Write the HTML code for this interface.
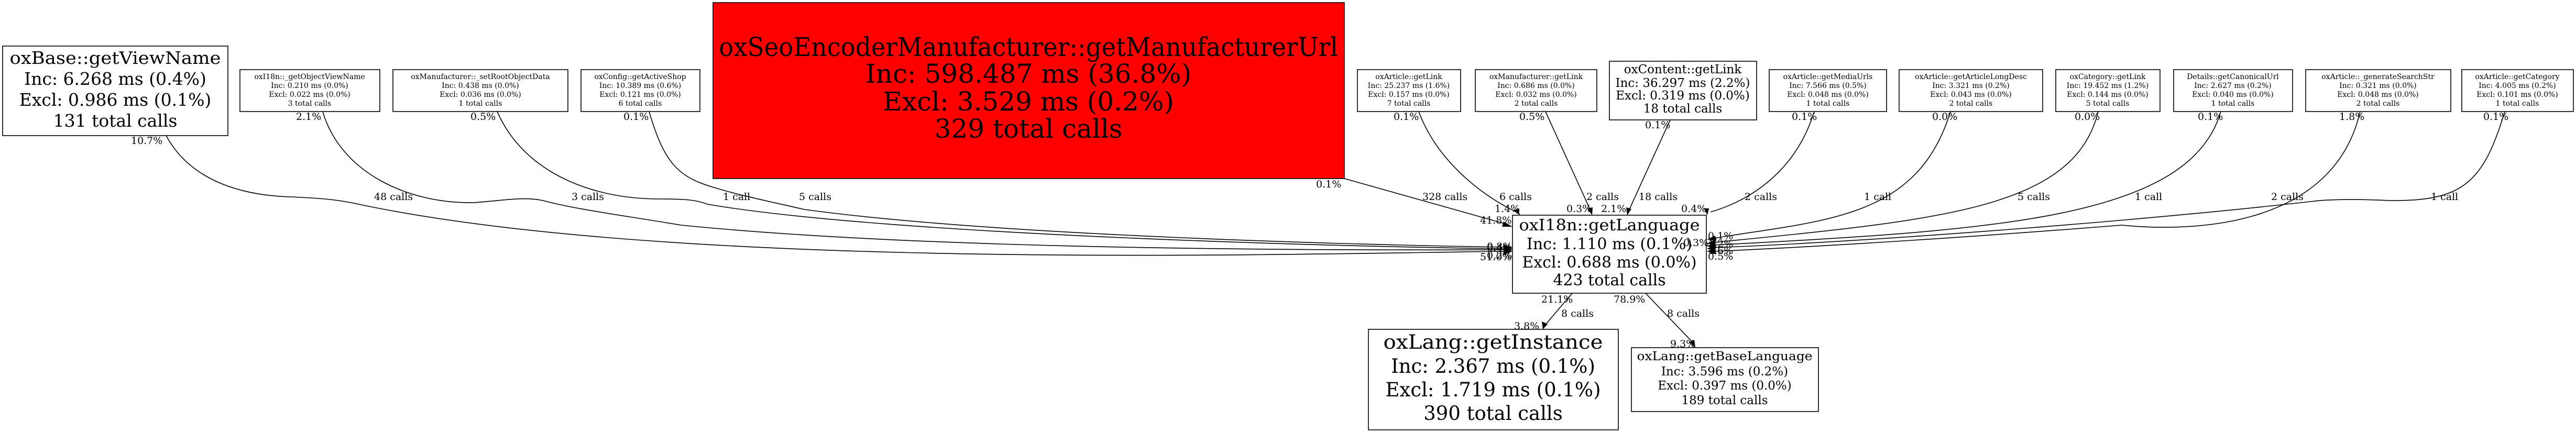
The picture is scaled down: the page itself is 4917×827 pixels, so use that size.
<!DOCTYPE html>
<html><head><meta charset="utf-8"><style>
html,body{margin:0;padding:0;background:#fff;width:4917px;height:827px;overflow:hidden}
svg{display:block}
text{font-family:"DejaVu Serif","Liberation Serif",serif;fill:#000}
.s{font-size:14px}
.l{font-size:19px}
</style></head><body>
<svg width="4917" height="827" viewBox="0 0 4917 827" xmlns="http://www.w3.org/2000/svg">
<g fill="none" stroke="#000" stroke-width="1.6">
<path d="M317,259 C350,320 420,372 555,376 C600,378 640,380 684,390 C1300,520 2500,484 2872,480"/>
<path d="M616,213 C650,330 780,390 906,387 C960,383 1000,375 1036,383 C1100,400 1180,410 1300,430 C1800,480 2600,478 2872,477"/>
<path d="M949,213 C1000,330 1130,380 1258,380 C1310,380 1330,382 1350,390 C1700,450 2600,472 2872,475"/>
<path d="M1239,213 C1270,320 1300,340 1369,360 C1420,375 1470,385 1535,400 C1900,450 2600,468 2872,472"/>
<path d="M2566,341 L2875,428"/>
<path d="M2708,213 C2740,300 2820,370 2895,405"/>
<path d="M2950,213 L3035,400"/>
<path d="M3188,229 L3110,400"/>
<path d="M3463,213 C3430,320 3350,380 3265,405"/>
<path d="M3723,213 C3660,420 3480,420 3272,455"/>
<path d="M4005,213 C3960,400 3700,420 3272,463"/>
<path d="M4239,213 C4180,420 3800,440 3272,468"/>
<path d="M4505,213 C4450,450 4150,440 4050,430 C3800,450 3500,470 3272,480"/>
<path d="M4781,213 C4740,350 4700,385 4560,383 C4500,380 4450,380 4410,385 C4100,420 3600,460 3272,473"/>
<path d="M3001,560 L2950,620"/>
<path d="M3141,560 L3232,655"/>
</g>
<g fill="#000">
<polygon points="2887,480 2870,473 2870,487"/>
<polygon points="2887,476 2870,470 2870,482"/>
<polygon points="2887,473 2870,467 2870,479"/>
<polygon points="2887,433 2870,423 2867,433"/>
<polygon points="2901,411 2888,402 2898,399"/>
<polygon points="3039,411 3030,398 3040,396"/>
<polygon points="3106,411 3104,396 3114,399"/>
<polygon points="3259,411 3262,398 3252,398"/>
<polygon points="3258,457 3274,450 3276,461"/>
<polygon points="3258,465 3274,458 3275,469"/>
<polygon points="3258,470 3274,463 3275,474"/>
<polygon points="3258,475 3274,469 3275,480"/>
<polygon points="3258,480 3274,474 3275,486"/>
<polygon points="2945,629 2943,614 2954,619"/>
<polygon points="3236,664 3224,654 3234,649"/>
</g>
<g fill="#fff" stroke="#000" stroke-width="1.6">
<rect x="5" y="88" width="430" height="171"/>
<rect x="458" y="133" width="267" height="80"/>
<rect x="750" y="133" width="334" height="80"/>
<rect x="1109" y="133" width="227" height="80"/>
<rect x="1361" y="5" width="1205" height="336" fill="#ff0000"/>
<rect x="2591" y="133" width="197" height="80"/>
<rect x="2816" y="133" width="232" height="80"/>
<rect x="3072" y="117" width="281" height="112"/>
<rect x="3377" y="133" width="224" height="80"/>
<rect x="3625" y="133" width="274" height="80"/>
<rect x="3924" y="133" width="199" height="80"/>
<rect x="4149" y="133" width="227" height="80"/>
<rect x="4401" y="133" width="277" height="80"/>
<rect x="4699" y="133" width="213" height="80"/>
<rect x="2887" y="411" width="370" height="149"/>
<rect x="2612" y="629" width="477" height="192"/>
<rect x="3114" y="664" width="357" height="122"/>
</g>
<g text-anchor="middle">
<g font-size="33"><text x="220" y="122" textLength="403" lengthAdjust="spacingAndGlyphs">oxBase::getViewName</text><text x="220" y="162">Inc: 6.268 ms (0.4%)</text><text x="220" y="202">Excl: 0.986 ms (0.1%)</text><text x="220" y="242">131 total calls</text></g>
<g class="s"><text x="591" y="151">oxI18n::_getObjectViewName</text><text x="591" y="168">Inc: 0.210 ms (0.0%)</text><text x="591" y="185">Excl: 0.022 ms (0.0%)</text><text x="591" y="202">3 total calls</text></g>
<g class="s"><text x="917" y="151">oxManufacturer::_setRootObjectData</text><text x="917" y="168">Inc: 0.438 ms (0.0%)</text><text x="917" y="185">Excl: 0.036 ms (0.0%)</text><text x="917" y="202">1 total calls</text></g>
<g class="s"><text x="1222" y="151">oxConfig::getActiveShop</text><text x="1222" y="168">Inc: 10.389 ms (0.6%)</text><text x="1222" y="185">Excl: 0.121 ms (0.0%)</text><text x="1222" y="202">6 total calls</text></g>
<g font-size="50"><text x="1963" y="107" textLength="1182" lengthAdjust="spacingAndGlyphs">oxSeoEncoderManufacturer::getManufacturerUrl</text><text x="1963" y="158">Inc: 598.487 ms (36.8%)</text><text x="1963" y="211">Excl: 3.529 ms (0.2%)</text><text x="1963" y="263">329 total calls</text></g>
<g class="s"><text x="2689" y="151">oxArticle::getLink</text><text x="2689" y="168">Inc: 25.237 ms (1.6%)</text><text x="2689" y="185">Excl: 0.157 ms (0.0%)</text><text x="2689" y="202">7 total calls</text></g>
<g class="s"><text x="2932" y="151">oxManufacturer::getLink</text><text x="2932" y="168">Inc: 0.686 ms (0.0%)</text><text x="2932" y="185">Excl: 0.032 ms (0.0%)</text><text x="2932" y="202">2 total calls</text></g>
<g font-size="23"><text x="3212" y="140">oxContent::getLink</text><text x="3212" y="166">Inc: 36.297 ms (2.2%)</text><text x="3212" y="190">Excl: 0.319 ms (0.0%)</text><text x="3212" y="215">18 total calls</text></g>
<g class="s"><text x="3489" y="151">oxArticle::getMediaUrls</text><text x="3489" y="168">Inc: 7.566 ms (0.5%)</text><text x="3489" y="185">Excl: 0.048 ms (0.0%)</text><text x="3489" y="202">1 total calls</text></g>
<g class="s"><text x="3762" y="151">oxArticle::getArticleLongDesc</text><text x="3762" y="168">Inc: 3.321 ms (0.2%)</text><text x="3762" y="185">Excl: 0.043 ms (0.0%)</text><text x="3762" y="202">2 total calls</text></g>
<g class="s"><text x="4023" y="151">oxCategory::getLink</text><text x="4023" y="168">Inc: 19.452 ms (1.2%)</text><text x="4023" y="185">Excl: 0.144 ms (0.0%)</text><text x="4023" y="202">5 total calls</text></g>
<g class="s"><text x="4262" y="151">Details::getCanonicalUrl</text><text x="4262" y="168">Inc: 2.627 ms (0.2%)</text><text x="4262" y="185">Excl: 0.040 ms (0.0%)</text><text x="4262" y="202">1 total calls</text></g>
<g class="s"><text x="4539" y="151">oxArticle::_generateSearchStr</text><text x="4539" y="168">Inc: 0.321 ms (0.0%)</text><text x="4539" y="185">Excl: 0.048 ms (0.0%)</text><text x="4539" y="202">2 total calls</text></g>
<g class="s"><text x="4805" y="151">oxArticle::getCategory</text><text x="4805" y="168">Inc: 4.005 ms (0.2%)</text><text x="4805" y="185">Excl: 0.101 ms (0.0%)</text><text x="4805" y="202">1 total calls</text></g>
<g font-size="30"><text x="3072" y="440" textLength="345" lengthAdjust="spacingAndGlyphs">oxI18n::getLanguage</text><text x="3072" y="476">Inc: 1.110 ms (0.1%)</text><text x="3072" y="511">Excl: 0.688 ms (0.0%)</text><text x="3072" y="545">423 total calls</text></g>
<g font-size="37"><text x="2850" y="666" textLength="419" lengthAdjust="spacingAndGlyphs">oxLang::getInstance</text><text x="2850" y="712">Inc: 2.367 ms (0.1%)</text><text x="2850" y="757">Excl: 1.719 ms (0.1%)</text><text x="2850" y="802">390 total calls</text></g>
<g font-size="23"><text x="3292" y="688" textLength="335" lengthAdjust="spacingAndGlyphs">oxLang::getBaseLanguage</text><text x="3292" y="717">Inc: 3.596 ms (0.2%)</text><text x="3292" y="744">Excl: 0.397 ms (0.0%)</text><text x="3292" y="772">189 total calls</text></g>
</g>
<g class="l">
<text x="250" y="275">10.7%</text><text x="565" y="229">2.1%</text><text x="898" y="229">0.5%</text><text x="1190" y="229">0.1%</text>
<text x="714" y="382">48 calls</text><text x="1091" y="382">3 calls</text><text x="1380" y="382">1 call</text><text x="1525" y="382">5 calls</text>
<text x="2512" y="358">0.1%</text><text x="2715" y="382">328 calls</text><text x="2825" y="427">41.8%</text>
<text x="2660" y="229">0.1%</text><text x="2862" y="382">6 calls</text><text x="2853" y="405">1.4%</text>
<text x="2900" y="229">0.5%</text><text x="3028" y="382">2 calls</text><text x="2990" y="405">0.3%</text>
<text x="3140" y="245">0.1%</text><text x="3128" y="382">18 calls</text><text x="3056" y="405">2.1%</text>
<text x="3420" y="229">0.1%</text><text x="3330" y="382">2 calls</text><text x="3209" y="405">0.4%</text>
<text x="3688" y="229">0.0%</text><text x="3558" y="382">1 call</text>
<text x="3960" y="229">0.0%</text><text x="3851" y="382">5 calls</text>
<text x="4195" y="229">0.1%</text><text x="4075" y="382">1 call</text>
<text x="4465" y="229">1.8%</text><text x="4335" y="382">2 calls</text>
<text x="4740" y="229">0.1%</text><text x="4640" y="382">1 call</text>
<text x="2838" y="477">0.8%</text><text x="2838" y="480">0.4%</text><text x="2825" y="497">51.0%</text><text x="2838" y="494">0.2%</text>
<text x="3260" y="457">0.1%</text><text x="3213" y="470">0.3%</text><text x="3260" y="472">1.2%</text><text x="3260" y="485">1.6%</text><text x="3260" y="496">0.5%</text>
<text x="2942" y="578">21.1%</text><text x="2980" y="605">8 calls</text><text x="2890" y="629">3.8%</text>
<text x="3080" y="578">78.9%</text><text x="3182" y="605">8 calls</text><text x="3188" y="663">9.3%</text>
</g>
</svg>
</body></html>
